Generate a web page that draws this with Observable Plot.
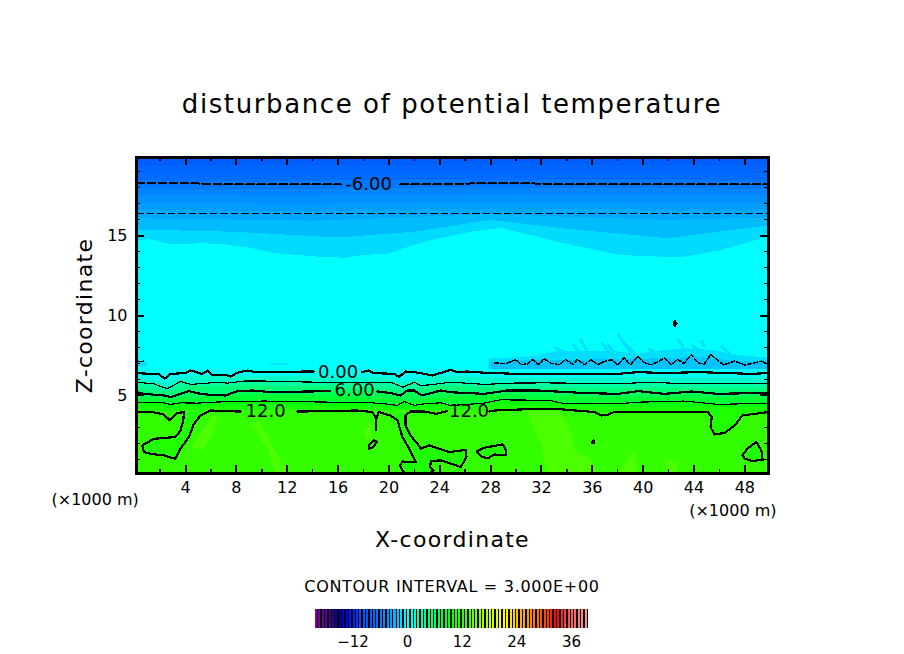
<!DOCTYPE html>
<html>
<head>
<meta charset="utf-8">
<script src="https://cdn.jsdelivr.net/npm/d3@7"></script>
<script src="https://cdn.jsdelivr.net/npm/@observablehq/plot@0.6"></script>
<style>
  html, body { margin: 0; padding: 0; background: #fff; }
  body { width: 904px; height: 654px; overflow: hidden; font-family: "DejaVu Sans", sans-serif; color: #000; }
  #title { height: 135px; box-sizing: border-box; padding-top: 87px; text-align: center; font-size: 26px; line-height: 34px; letter-spacing: 1.6px; }
  #caption { height: 43px; box-sizing: border-box; padding-top: 17px; text-align: center; font-size: 16px; line-height: 20px; letter-spacing: 0.7px; }
  svg { display: block; shape-rendering: crispEdges; }
  g[aria-label="x-axis label"], g[aria-label="y-axis label"] { font-size: 22px; letter-spacing: 1.3px; }
</style>
</head>
<body>
<div id="title">disturbance of potential temperature</div>
<div id="chart"></div>
<div id="caption">CONTOUR INTERVAL = 3.000E+00</div>
<div id="legend"></div>
<script>
const xDomain = [0.14, 49.86];
const zDomain = [0.12, 19.88];
const xMajor = [4, 8, 12, 16, 20, 24, 28, 32, 36, 40, 44, 48];
const xMinor = [2, 6, 10, 14, 18, 22, 26, 30, 34, 38, 42, 46];
const zMajor = [5, 10, 15];
const zMinor = [1, 2, 3, 4, 6, 7, 8, 9, 11, 12, 13, 14, 16, 17, 18, 19];
const legendTicks = [-12, 0, 12, 24, 36];

const colorStops = [-19.6, -17.2, -15.7, -14.8, -13.2, -9.9, -7, -3, -1.5, -0.75, -0.1, 0.4, 2.6, 6.2, 8.4, 9.9, 11.5, 12.75, 13.9, 16.8, 20.5, 21.6, 24.3, 27.8, 30.9, 33.1, 34.9, 37.5, 39.3];
const colorHexes = ["#80009a", "#50009a", "#200090", "#0000a0", "#0000ff", "#0050ff", "#0068ff", "#00a8ff", "#00d0ff", "#00e0ff", "#00ffff", "#00ffff", "#00ffc0", "#00ff60", "#00ff30", "#08ff00", "#20ff00", "#34ff00", "#4cff00", "#a0ff00", "#f0ff00", "#ffff00", "#ffc000", "#ff8000", "#ff4000", "#ff0000", "#ff4040", "#ff7070", "#ff9090"];

// band boundaries, top of the domain downward: [fill value, boundary]
const levelTop = [[0.14, 19.88], [49.86, 19.88]];
const level1 = [[0.14, 19.4], [5, 19.35], [25, 19.42], [49.86, 19.4]];
const level2 = [[0.14, 18.9], [6, 18.87], [28, 18.93], [49.86, 18.9]];
const level3 = [[0.14, 18.42], [6, 18.38], [28, 18.45], [49.86, 18.4]];
const level4 = [[0.14, 17.92], [10, 17.88], [28, 17.96], [49.86, 17.9]];
const level5 = [[0.14, 17.5], [12, 17.46], [28, 17.54], [49.86, 17.48]];
const level6 = [[0.14, 17.0], [14, 16.96], [28, 17.08], [49.86, 16.98]];
const level7 = [[0.14, 16.56], [14, 16.5], [28, 16.66], [49.86, 16.54]];
const level8 = [[0.14, 16.05], [14, 15.9], [28, 16.3], [42, 15.95], [49.86, 16.1]];
const level9 = [[0.14, 15.35], [8, 15.2], [16, 14.85], [22, 15.2], [28, 15.95], [34, 15.4], [42, 14.8], [49.86, 15.6]];
const levelCyan = [[0.14, 14.7], [1.24, 14.73], [2.8, 14.44], [5.44, 14.48], [7, 14.44], [8.9, 14.23], [11.2, 13.85], [14.4, 13.65], [16.5, 13.58], [18, 13.75], [20.1, 13.85], [21.7, 14.31], [23.6, 14.73], [24.87, 14.94], [26.4, 15.2], [28.8, 15.44], [31.2, 15.0], [34.3, 14.4], [38.2, 13.75], [43, 13.6], [46.1, 14.05], [49.86, 14.9]];
const level15 = [[0.14, 6.1], [2.4, 5.8], [4, 6.15], [8, 6.2], [14, 6.15], [20, 6.1], [21, 5.85], [24, 6.2], [30, 6.05], [40, 6.1], [49.86, 6.05]];
const level45 = [[0.14, 5.5], [2.6, 5.2], [4.4, 5.55], [9, 5.6], [15, 5.55], [20, 5.45], [21.2, 5.25], [24, 5.6], [29, 5.45], [40, 5.45], [49.86, 5.45]];
const level75 = [[0.14, 4.85], [2.8, 4.75], [9, 5], [15, 4.98], [20, 4.8], [21.5, 4.7], [24.9, 4.95], [29, 5], [38, 4.85], [49.86, 4.85]];
const level105 = [[0.14, 4.25], [3, 4.2], [9, 4.35], [18, 4.3], [21, 4.15], [24.9, 4.3], [29, 4.45], [38, 4.25], [49.86, 4.25]];
const level12 = [[0.14, 3.99], [5.97, 4.06], [17.5, 4.06], [28.3, 4.06], [31.2, 4.15], [33.3, 4.15], [36.2, 3.96], [49.86, 3.96]];

// contour lines
const c0a = [[0.14, 6.4], [1.24, 6.35], [1.9, 6.35], [2.35, 6.04], [2.82, 6.35], [4.0, 6.4], [4.4, 6.56], [5.3, 6.35], [5.76, 6.56], [6.1, 6.29], [7.15, 6.29], [7.54, 6.19], [8.07, 6.42], [8.85, 6.56], [9.5, 6.46], [14.1, 6.5]];
const c0b = [[17.9, 6.46], [18.4, 6.56], [18.8, 6.4], [20.4, 6.35], [20.8, 6.15], [21.3, 6.5], [22, 6.46], [22.8, 6.35], [23.4, 6.25], [24.87, 6.6], [25.4, 6.46], [26.2, 6.5], [27.5, 6.42], [30.1, 6.35], [33.8, 6.35], [38, 6.35], [39.6, 6.46], [41.7, 6.4], [44.3, 6.46], [48.5, 6.35], [49.86, 6.4]];
const c3 = [[0.14, 5.83], [1.5, 5.73], [2.56, 5.42], [3.6, 5.87], [4.4, 5.69], [5.7, 5.77], [6.5, 5.83], [7.3, 5.77], [8.6, 5.9], [10.2, 5.9], [14.2, 5.83], [16.5, 5.83], [18, 5.83], [19.1, 5.83], [20.1, 5.83], [21.1, 5.52], [22, 5.83], [22.5, 5.62], [23.3, 5.67], [24.87, 5.83], [27.5, 5.69], [29.6, 5.77], [32.2, 5.79], [38, 5.73], [40.6, 5.83], [42.2, 5.77], [45.9, 5.73], [49.86, 5.77]];
const c6a = [[0.14, 5.21], [0.72, 5.1], [2.29, 5.0], [2.82, 4.9], [3.6, 5.1], [4.26, 5.27], [5.18, 5.1], [5.97, 5.04], [7.15, 5.0], [8.07, 5.27], [9.25, 5.31], [10.7, 5.21], [15.4, 5.27]];
const c6b = [[19.1, 5.25], [20.1, 5.15], [20.9, 5.0], [21.45, 5.31], [22, 5.31], [22.6, 5.0], [23.3, 5.15], [24.1, 5.31], [24.87, 5.2], [27.5, 5.1], [29.3, 5.31], [31.7, 5.31], [35.4, 5.15], [38, 5.1], [39.6, 5.27], [41.7, 5.1], [43.8, 5.25], [45.9, 5.1], [49.86, 5.17]];
const c9 = [[0.14, 4.54], [2.29, 4.54], [2.82, 4.44], [3.6, 4.54], [4.9, 4.52], [6.23, 4.58], [7.54, 4.62], [10.2, 4.65], [15.4, 4.58], [18, 4.58], [19.6, 4.48], [20.67, 4.38], [21.2, 4.62], [22, 4.38], [22.8, 4.48], [24.1, 4.54], [24.87, 4.37], [27.5, 4.52], [28.8, 4.73], [32.7, 4.69], [33.8, 4.48], [38, 4.48], [39.6, 4.58], [43.2, 4.65], [45.9, 4.44], [49.86, 4.52]];
const c12a = [[0.14, 3.99], [1.24, 3.99], [2.29, 3.81], [2.77, 3.44], [3.34, 3.9], [3.87, 3.96]];
const pocketLeft = [[3.87, 3.96], [3.82, 3.44], [3.6, 2.81], [3.2, 2.4], [1.51, 2.29], [0.59, 1.88], [0.72, 1.46], [1.24, 1.35], [2.29, 1.25], [3.2, 1.04], [3.6, 1.67], [4.26, 2.4], [4.66, 3.23], [5.18, 3.75], [5.97, 4.06]];
const c12b = [[5.97, 4.06], [8.33, 3.99]];
const c12c = [[12.8, 3.99], [17.5, 4.06], [18.7, 3.96], [19, 3.54], [19.2, 3.96], [20.1, 3.75]];
const channelLeft = [[20.1, 3.75], [20.67, 3.44], [21.06, 2.4], [21.6, 1.67], [22.1, 0.83], [21.06, 0.87], [20.88, 0.63], [21.06, 0.31], [21.3, 0.14]];
const channelRight = [[23.16, 0.14], [23.5, 0.31], [23.24, 0.52], [23.3, 0.9], [24.08, 0.94], [24.87, 0.73], [25.65, 0.52], [26.1, 1.15], [26.05, 1.6], [24.74, 1.46], [23.95, 1.67], [23.16, 1.88], [22.5, 1.67], [22.24, 1.98], [21.7, 2.5], [21.3, 3.125], [21.3, 3.75], [21.7, 4.0]];
const c12d = [[21.7, 4.0], [22.77, 4.0], [23.7, 3.85], [24.6, 4.02]];
const stub = [[19, 3.54], [19, 2.81]];
const c12e = [[27.9, 4.0], [28.3, 4.06], [31.2, 4.15], [33.3, 4.15], [36.2, 3.96], [36.7, 3.75], [37.2, 3.79], [37.7, 3.96], [45.1, 3.96]];
const pocketRight = [[45.1, 3.96], [45.4, 3.65], [45.3, 3.02], [45.6, 2.56], [46.4, 2.65], [47.2, 3.125], [47.8, 3.75], [49.86, 3.96]];
const loopA = [[18.44, 1.88], [18.83, 2.23], [19.04, 2.08], [18.7, 1.73], [18.44, 1.67]];
const loopB = [[26.9, 1.5], [27.5, 1.73], [28.94, 1.94], [29.2, 1.6], [29.2, 1.25], [28.3, 1.31], [27.8, 1.08], [27.36, 1.15]];
const loopC = [[35.95, 2.05], [36.1, 2.2], [36.15, 2.0]];
const loopD = [[47.8, 1.25], [48.2, 1.67], [48.9, 2.1], [49.3, 1.56], [49.4, 0.98], [48.6, 0.9], [48, 1.04]];
const loopE = [[42.4, 9.5], [42.5, 9.65], [42.62, 9.5], [42.5, 9.35]];
const cm3 = [[0.14, 16.38], [49.86, 16.38]];
const cm6a = [[0.14, 18.27], [6.4, 18.25], [6.6, 18.2], [16.2, 18.2]];
const cm6b = [[20.9, 18.2], [25, 18.22], [27, 18.27], [31, 18.27], [32.5, 18.22], [49.86, 18.2]];
const ripple = [[28.3, 7.04], [29.2, 6.98], [30, 7.25], [30.4, 6.92], [30.9, 6.98], [31.3, 7.25], [31.8, 6.92], [32.2, 7.3], [32.7, 7.02], [33.4, 6.92], [33.9, 7.25], [34.5, 6.92], [34.8, 7.25], [35.4, 6.92], [35.9, 7.25], [36.4, 6.92], [36.8, 7.08], [37.5, 7.25], [38, 6.92], [38.5, 7.35], [39, 6.92], [39.6, 7.45], [40.1, 7.05], [40.6, 6.92], [41.1, 7.08], [41.7, 7.35], [42.2, 6.92], [42.7, 7.25], [43.2, 7.0], [43.8, 7.55], [44.3, 7.05], [44.8, 6.95], [45.3, 7.55], [45.9, 7.2], [46.3, 6.9], [47.2, 7.15], [48, 6.9], [48.8, 7.05], [49.3, 7.15], [49.86, 6.95]];
const hook = [[0.14, 7.1], [0.7, 7.15]];

// lighter patches
const rippleOuter = [[27.8, 6.66], [27.8, 7.3], [31.4, 7.45], [33.3, 7.8], [35.4, 7.75], [38, 7.75], [39.6, 7.6], [41.1, 7.8], [43.2, 7.95], [45.3, 7.85], [47.4, 7.55], [49.86, 7.35], [49.86, 6.66]];
const rippleInner = [[28, 6.68], [28, 7.1], [31, 7.2], [36, 7.25], [40, 7.3], [44, 7.4], [47, 7.2], [49.86, 7.1], [49.86, 6.68]];
const leftPatch = [[0.14, 6.75], [0.14, 7.2], [0.8, 7.15], [1.1, 6.9], [0.8, 6.75]];
const midPatch = [[10.3, 6.88], [10.8, 7.02], [12, 7.02], [12.5, 6.9]];
const warmA = [[4.5, 1.77], [6, 3.65], [6.5, 3.75], [6.2, 2.8], [5.4, 1.56]];
const warmB = [[9.1, 3.23], [9.77, 3.44], [11.2, 1.35], [12, 0.2], [11, 0.2], [10.4, 1.77]];
const warmC = [[18, 2.8], [18.7, 3.44], [18.6, 2.4], [18.2, 2.2]];
const warmD = [[30.8, 4], [33.3, 4], [34.3, 3], [34.6, 1.6], [35.9, 1], [36.2, 0.14], [32.35, 0.14], [32, 1.9]];
const warmE = [[38, 0.14], [39.3, 1.56], [39.6, 0.14]];
const warmF = [[41.7, 1.15], [42.5, 0.73], [43, 1.15], [42.5, 0.14], [41.9, 0.14]];
const streakStart = [[35, 8.54], [36.7, 8.33], [38, 8.85], [37.2, 8.13], [38.4, 8.33], [33, 8.02], [34.5, 8.23], [40.4, 7.92], [42.7, 8.54], [43.8, 8.13], [44.6, 8.44], [46.1, 8.13]];
const streakEnd = [[35.6, 7.81], [37.5, 7.5], [39.1, 7.6], [38.3, 7.29], [39.4, 7.6], [33.8, 7.71], [35, 7.6], [41.1, 7.6], [43.2, 8.02], [44.6, 7.71], [44.8, 8.02], [46.9, 7.5]];

const labelText = ["-6.00", "0.00", "6.00", "12.0", "12.0"];
const labelX = [18.4, 16.0, 17.3, 10.3, 26.3];
const labelZ = [18.2, 6.45, 5.3, 4.0, 4.0];

const rows = (id, v, pts) => pts.map(([x, y]) => ({id, v, x, y}));
const table = list => list.flatMap(([v, pts], i) => rows(i, v, pts));

const bands = table([
  [-8.25, levelTop], [-7.5, level1], [-6.75, level2], [-6, level3], [-5.25, level4],
  [-4.5, level5], [-3.75, level6], [-3, level7], [-2.25, level8], [-1, level9], [0, levelCyan],
  [1, c0a.concat(c0b)], [2.25, level15], [3.75, c3], [5.25, level45], [6.75, c6a.concat(c6b)],
  [8.25, level75], [9.75, c9], [11.25, level105], [12.75, level12]
]);
const patches = table([
  [-0.85, rippleOuter], [-2, rippleInner], [-0.75, leftPatch], [-0.6, midPatch],
  [13.9, warmA], [13.9, warmB], [13.9, warmC], [13.9, warmD], [13.9, warmE], [13.9, warmF],
  [11.5, pocketLeft], [11.5, channelLeft.concat(channelRight)], [11.5, pocketRight],
  [11.5, loopA], [11.5, loopB], [11.5, loopD]
]);
const bold = table([[0, c0a], [0, c0b], [6, c6a], [6, c6b], [12, c12a], [12, pocketLeft], [12, c12b], [12, c12c], [12, channelLeft], [12, channelRight], [12, c12d], [12, stub], [12, c12e], [12, pocketRight]]);
const thin = table([[3, c3], [9, c9]]);
const closed = table([[12, loopA], [12, loopB], [12, loopC], [12, loopD], [0, loopE]]);
const streaks = streakStart.map((s, i) => ({x1: s[0], y1: s[1], x2: streakEnd[i][0], y2: streakEnd[i][1]}));

const color = {type: "linear", domain: colorStops, range: colorHexes, interpolate: "rgb", clamp: true};
const ink = {stroke: "black"};

const chart = Plot.plot({
  width: 904, height: 425,
  marginLeft: 136, marginRight: 136, marginTop: 22, marginBottom: 87,
  style: {background: "transparent", fontFamily: "'DejaVu Sans', sans-serif", color: "black"},
  x: {domain: xDomain},
  y: {domain: zDomain},
  color,
  marks: [
    Plot.area(bands, {x1: "x", y1: () => zDomain[0], y2: "y", z: "id", fill: "v"}),
    Plot.line(patches, {x: "x", y: "y", z: "id", fill: "v", stroke: "none", curve: "linear-closed"}),
    Plot.link(streaks, {x1: "x1", y1: "y1", x2: "x2", y2: "y2", stroke: () => -0.85, strokeWidth: 3, strokeLinecap: "butt"}),
    Plot.line(thin, {x: "x", y: "y", z: "id", ...ink, strokeWidth: 1.2}),
    Plot.line(bold, {x: "x", y: "y", z: "id", ...ink, strokeWidth: 2.2}),
    Plot.line(closed, {x: "x", y: "y", z: "id", ...ink, strokeWidth: 2.2, curve: "linear-closed"}),
    Plot.line(cm3, {x: "0", y: "1", ...ink, strokeWidth: 1, strokeDasharray: "7,3.5"}),
    Plot.line(cm6a, {x: "0", y: "1", ...ink, strokeWidth: 2, strokeDasharray: "8,3"}),
    Plot.line(cm6b, {x: "0", y: "1", ...ink, strokeWidth: 2, strokeDasharray: "8,3"}),
    Plot.line(ripple, {x: "0", y: "1", ...ink, strokeWidth: 1.5, strokeDasharray: "4,2"}),
    Plot.line(hook, {x: "0", y: "1", ...ink, strokeWidth: 1.3}),
    Plot.text(labelText, {x: labelX, y: labelZ, text: d => d, fontSize: 18, fill: "black"}),
    Plot.ruleX(xMajor, {y1: zDomain[0], y2: 0.62, ...ink, strokeWidth: 2}),
    Plot.ruleX(xMinor, {y1: zDomain[0], y2: 0.37, ...ink, strokeWidth: 1.5}),
    Plot.ruleX(xMajor, {y1: 19.88, y2: 19.38, ...ink, strokeWidth: 2}),
    Plot.ruleX(xMinor, {y1: 19.88, y2: 19.63, ...ink, strokeWidth: 1.5}),
    Plot.ruleY(zMajor, {x1: xDomain[0], x2: 0.77, ...ink, strokeWidth: 2}),
    Plot.ruleY(zMinor, {x1: xDomain[0], x2: 0.45, ...ink, strokeWidth: 1.5}),
    Plot.ruleY(zMajor, {x1: 49.86, x2: 49.23, ...ink, strokeWidth: 2}),
    Plot.ruleY(zMinor, {x1: 49.86, x2: 49.55, ...ink, strokeWidth: 1.5}),
    Plot.frame({stroke: "black", strokeWidth: 3}),
    Plot.axisX(xMajor, {tickSize: 0, tickPadding: 8, fontSize: 16, label: "X-coordinate", labelAnchor: "center", labelArrow: "none", labelOffset: 73}),
    Plot.axisY(zMajor, {tickSize: 0, tickPadding: 9, fontSize: 16, label: "Z-coordinate", labelAnchor: "center", labelArrow: "none", labelOffset: 60}),
    Plot.text(["(×1000 m)"], {frameAnchor: "bottom-left", dx: -85, dy: 31, fontSize: 16, fill: "black"}),
    Plot.text(["(×1000 m)"], {frameAnchor: "bottom-right", dx: 8, dy: 42, fontSize: 16, fill: "black"})
  ]
});
document.getElementById("chart").append(chart);

const stripes = d3.range(-20.25, 39.75, 0.75);
const legend = Plot.plot({
  width: 904, height: 51,
  marginLeft: 315, marginRight: 316, marginTop: 6, marginBottom: 26,
  style: {background: "transparent", fontFamily: "'DejaVu Sans', sans-serif", color: "black"},
  x: {domain: [-20.25, 39.75]},
  y: {domain: [0, 1], axis: null},
  color,
  marks: [
    Plot.rect([0], {x1: () => -20.25, x2: () => 39.75, y1: () => 0, y2: () => 1, fill: () => null, stroke: "black", strokeWidth: 3}),
    Plot.rect(stripes, {x1: d => d, x2: d => d + 0.75, y1: () => 0, y2: () => 1, fill: "black"}),
    Plot.rect(stripes, {x1: d => d, x2: d => d + 0.75, y1: () => 0, y2: () => 1, fill: d => d + 0.375, insetRight: 1.4}),
    Plot.axisX(legendTicks, {tickSize: 0, tickPadding: 8, fontSize: 15, label: null, tickFormat: d => d < 0 ? "−" + (-d) : String(d)})
  ]
});
document.getElementById("legend").append(legend);
</script>
</body>
</html>
